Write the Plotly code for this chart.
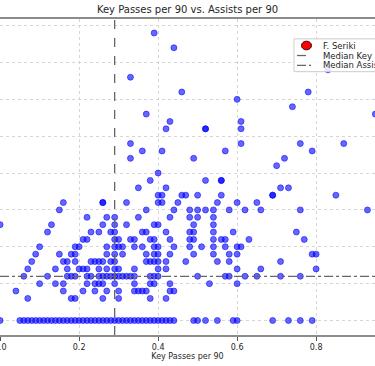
import plotly.graph_objects as go

# ---- data ----
# key passes per 90 of the players, grouped by their assists per 90 value
assist_levels = [0.40, 0.38, 0.36, 0.34, 0.32, 0.30, 0.28, 0.26, 0.24, 0.22,
                 0.20, 0.18, 0.16, 0.14, 0.12, 0.10, 0.08, 0.06, 0.00]
kp_a040 = [0.40]
kp_a038 = [0.38, 0.52, 0.56, 0.56]
kp_a036 = [0.35, 0.42, 0.71, 0.73]
kp_a034 = [0.40, 0.41, 0.46, 0.47, 0.50, 0.56, 0.69, 0.69, 0.85]
kp_a032 = [0.16, 0.26, 0.26, 0.32, 0.40, 0.41, 0.45, 0.55, 0.60, 0.65]
kp_a030 = [0.15, 0.37, 0.44, 0.48, 0.50, 0.52, 0.54, 0.58, 0.62, 0.66, 0.76, 0.93]
kp_a028 = [0.22, 0.27, 0.29, 0.35, 0.43, 0.48, 0.50, 0.54]
kp_a026 = [0.00, 0.13, 0.26, 0.29, 0.32, 0.39, 0.40, 0.49, 0.54]
kp_a024 = [0.12, 0.23, 0.25, 0.28, 0.29, 0.36, 0.37, 0.42, 0.48, 0.49, 0.54, 0.59, 0.75]
kp_a022 = [0.21, 0.22, 0.29, 0.30, 0.33, 0.34, 0.38, 0.39, 0.43, 0.48, 0.49, 0.54,
           0.56, 0.57, 0.63, 0.77]
kp_a020 = [0.10, 0.19, 0.20, 0.27, 0.29, 0.30, 0.31, 0.34, 0.36, 0.39, 0.40, 0.44,
           0.48, 0.51, 0.54, 0.57, 0.60, 0.61]
kp_a018 = [0.09, 0.15, 0.18, 0.19, 0.27, 0.29, 0.31, 0.37, 0.39, 0.40, 0.43, 0.49,
           0.54, 0.58, 0.60, 0.79, 0.80]
kp_a016 = [0.08, 0.16, 0.17, 0.19, 0.23, 0.24, 0.25, 0.26, 0.28, 0.29, 0.37, 0.38,
           0.39, 0.40, 0.42, 0.47, 0.55, 0.58, 0.71]
kp_a014 = [0.07, 0.14, 0.17, 0.20, 0.21, 0.22, 0.25, 0.27, 0.29, 0.30, 0.34, 0.40,
           0.42, 0.60, 0.66, 0.80]
kp_a012 = [0.06, 0.12, 0.17, 0.18, 0.19, 0.22, 0.23, 0.25, 0.26, 0.27, 0.28, 0.29,
           0.30, 0.31, 0.32, 0.33, 0.34, 0.38, 0.39, 0.40, 0.50, 0.57, 0.58, 0.62,
           0.65, 0.71, 0.76]
kp_a010 = [0.10, 0.14, 0.16, 0.22, 0.24, 0.25, 0.26, 0.29, 0.34, 0.38, 0.39, 0.43,
           0.53, 0.60]
kp_a008 = [0.04, 0.16, 0.21, 0.24, 0.27, 0.30, 0.34, 0.35, 0.36, 0.37, 0.43, 0.44]
kp_a006 = [0.07, 0.18, 0.19, 0.26, 0.30, 0.38, 0.42]
kp_a000 = [0.00, 0.05, 0.06, 0.07, 0.08, 0.09, 0.10, 0.11, 0.12, 0.13, 0.14, 0.15,
           0.16, 0.17, 0.18, 0.19, 0.20, 0.21, 0.22, 0.23, 0.24, 0.25, 0.26, 0.27,
           0.28, 0.29, 0.30, 0.31, 0.32, 0.33, 0.34, 0.35, 0.36, 0.37, 0.38, 0.39,
           0.40, 0.41, 0.42, 0.43, 0.44, 0.49, 0.50, 0.52, 0.55, 0.59, 0.60, 0.69,
           0.73, 0.76, 0.79]
kp_by_level = [kp_a040, kp_a038, kp_a036, kp_a034, kp_a032, kp_a030, kp_a028,
               kp_a026, kp_a024, kp_a022, kp_a020, kp_a018, kp_a016, kp_a014,
               kp_a012, kp_a010, kp_a008, kp_a006, kp_a000]

# players with higher assist rates: (key passes per 90, assists per 90)
high_kp = [0.39, 0.44, 0.33, 0.83, 0.46, 0.78, 0.60, 0.74, 0.37, 0.95, 0.43, 0.61,
           0.42, 0.52, 0.52, 0.61, 0.33, 0.61, 0.76, 0.87, 0.36, 0.41, 0.57, 0.79,
           0.33, 0.49, 0.72, 0.70]
high_as = [0.78, 0.74, 0.66, 0.68, 0.62, 0.62, 0.60, 0.58, 0.56, 0.56, 0.54, 0.54,
           0.52, 0.52, 0.52, 0.52, 0.48, 0.48, 0.48, 0.48, 0.46, 0.46, 0.46, 0.46,
           0.44, 0.44, 0.44, 0.42]

highlight_name = "F. Seriki"
highlight_kp = [None]
highlight_as = [None]

median_key_passes = 0.29
median_assists = 0.12
legend_labels = [highlight_name, "Median Key Passes", "Median Assists"]

# ---- build ----
xs, ys = [], []
for lvl, kps in zip(assist_levels, kp_by_level):
    xs.extend(kps)
    ys.extend([lvl] * len(kps))
xs.extend(high_kp)
ys.extend(high_as)

FONT = "DejaVu Sans"
TXT = "#262626"
LINE = "#666666"
W, H = 375, 366
fig = go.Figure()
fig.add_trace(go.Scatter(
    x=xs, y=ys, mode="markers", showlegend=False,
    marker=dict(size=6, color="rgba(0,0,255,0.6)",
                line=dict(width=0.9, color="rgba(0,0,255,0.6)")),
    hoverinfo="x+y"))
fig.add_trace(go.Scatter(
    x=highlight_kp, y=highlight_as, mode="markers", name=highlight_name,
    showlegend=False,
    marker=dict(size=9, color="red", line=dict(width=1, color="#400000"))))

fig.add_vline(x=median_key_passes, line=dict(color=LINE, width=1.3, dash="dash"))
fig.add_hline(y=median_assists, line=dict(color=LINE, width=1.3, dash="dashdot"))

# ---- legend box (drawn in pixel positions of the paper) ----
def px(x):
    return x / W

def py(y):
    return 1 - y / H

fig.add_shape(type="rect", xref="paper", yref="paper", layer="above",
              x0=px(294), x1=px(380), y0=py(23), y1=py(61),
              fillcolor="rgba(255,255,255,0.85)", line=dict(color="#cccccc", width=1))
fig.add_shape(type="circle", xref="paper", yref="paper", layer="above",
              x0=px(301.5), x1=px(311.5), y0=py(25.7), y1=py(35.7),
              fillcolor="red", line=dict(color="#400000", width=1))
fig.add_shape(type="line", xref="paper", yref="paper", layer="above",
              x0=px(297), x1=px(311), y0=py(42.3), y1=py(42.3),
              line=dict(color=LINE, width=1.3, dash="dash"))
fig.add_shape(type="line", xref="paper", yref="paper", layer="above",
              x0=px(297), x1=px(311), y0=py(53.7), y1=py(53.7),
              line=dict(color=LINE, width=1.3, dash="dashdot"))
for label, yy in zip(legend_labels, [30.7, 42.3, 53.7]):
    fig.add_annotation(text=label, xref="paper", yref="paper", x=px(320.5), y=py(yy),
                       xanchor="left", yanchor="middle", showarrow=False,
                       font=dict(family=FONT, size=8.5, color=TXT))

fig.update_layout(
    width=W, height=H,
    margin=dict(l=0, r=0, t=19, b=31, pad=0, autoexpand=False),
    paper_bgcolor="white", plot_bgcolor="white",
    font=dict(family=FONT, size=8, color=TXT),
    showlegend=False,
    title=dict(text="Key Passes per 90 vs. Assists per 90", x=0.5, xanchor="center",
               y=1 - 9 / H, yanchor="middle", yref="container",
               font=dict(family=FONT, size=10, color=TXT)),
    xaxis=dict(range=[-0.0003, 0.9491], dtick=0.2, tick0=0, tickformat=".1f",
               ticks="outside", ticklen=4, tickcolor="#555555", tickwidth=1,
               showline=True, linecolor="#8c8c8c", linewidth=1.5, mirror=True,
               showgrid=True, gridcolor="#d6d6d6", griddash="dot", gridwidth=1,
               zeroline=False, automargin=False, ticklabeloverflow="allow",
               tickfont=dict(size=8, color=TXT),
               title=dict(text="Key Passes per 90", standoff=2,
                          font=dict(size=8, color=TXT))),
    yaxis=dict(range=[-0.0393, 0.818], dtick=0.1, tick0=0,
               showticklabels=False, ticks="", showline=False,
               showgrid=True, gridcolor="#d6d6d6", griddash="dot", gridwidth=1,
               zeroline=False, automargin=False),
)

fig.write_html("out.html",
               config={"displayModeBar": False},
               post_script="document.body.style.margin='0';"
                           "document.body.style.overflow='hidden';")
